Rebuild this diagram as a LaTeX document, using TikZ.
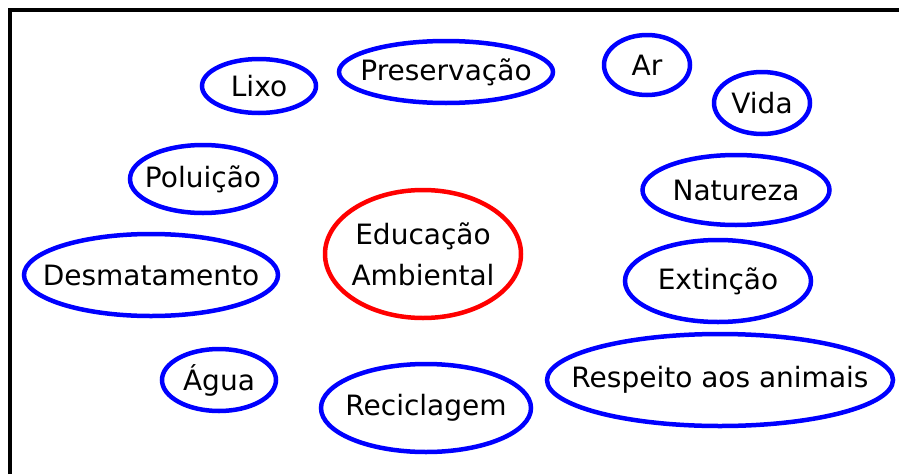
\documentclass[tikz,border=0pt]{standalone}
\usepackage{fontspec}
\setmainfont{DejaVu Sans}
\usepackage{tikz}
\usetikzlibrary{shapes.geometric}
\tikzset{
	topic/.style={
		draw=blue,
		ellipse,
		line width=4.5pt,
		inner sep=0pt,
		label={[font=\fontsize{28}{41}\selectfont, align=center]center:#1}
	},
	centre/.style={
		topic={#1},
		draw=red
	}
}

\begin{document}
\begin{tikzpicture}[x=1pt, y=-1pt]
	\useasboundingbox (0,0) rectangle (899,474);

	% frame
	\draw[line width=4pt] (10,474) -- (10,10) -- (899,10);

	% top row
	\node[topic=Lixo, minimum width=114pt, minimum height=54pt] (lixo) at (259,86) {};
	\node[topic=Preservação, minimum width=214pt, minimum height=62pt] (preservacao) at (446,72) {};
	\node[topic=Ar, minimum width=86pt, minimum height=60pt] (ar) at (647,65) {};
	\node[topic=Vida, minimum width=96pt, minimum height=62pt] (vida) at (762,103) {};

	% middle
	\node[topic=Poluição, minimum width=146pt, minimum height=68pt] (poluicao) at (203,179) {};
	\node[topic=Natureza, minimum width=187pt, minimum height=70pt] (natureza) at (736,190) {};
	\node[centre={Educação\\Ambiental}, minimum width=196pt, minimum height=128pt] (educacao) at (423,254) {};
	\node[topic=Desmatamento, minimum width=254pt, minimum height=82pt] (desmatamento) at (151,275) {};
	\node[topic=Extinção, minimum width=186pt, minimum height=82pt] (extincao) at (718,281) {};

	% bottom row
	\node[topic=Água, minimum width=114pt, minimum height=62pt] (agua) at (219,380) {};
	\node[topic=Reciclagem, minimum width=210pt, minimum height=88pt] (reciclagem) at (426,408) {};
	\node[topic=Respeito aos animais, minimum width=346pt, minimum height=92pt] (respeito) at (720,380) {};
\end{tikzpicture}
\end{document}
